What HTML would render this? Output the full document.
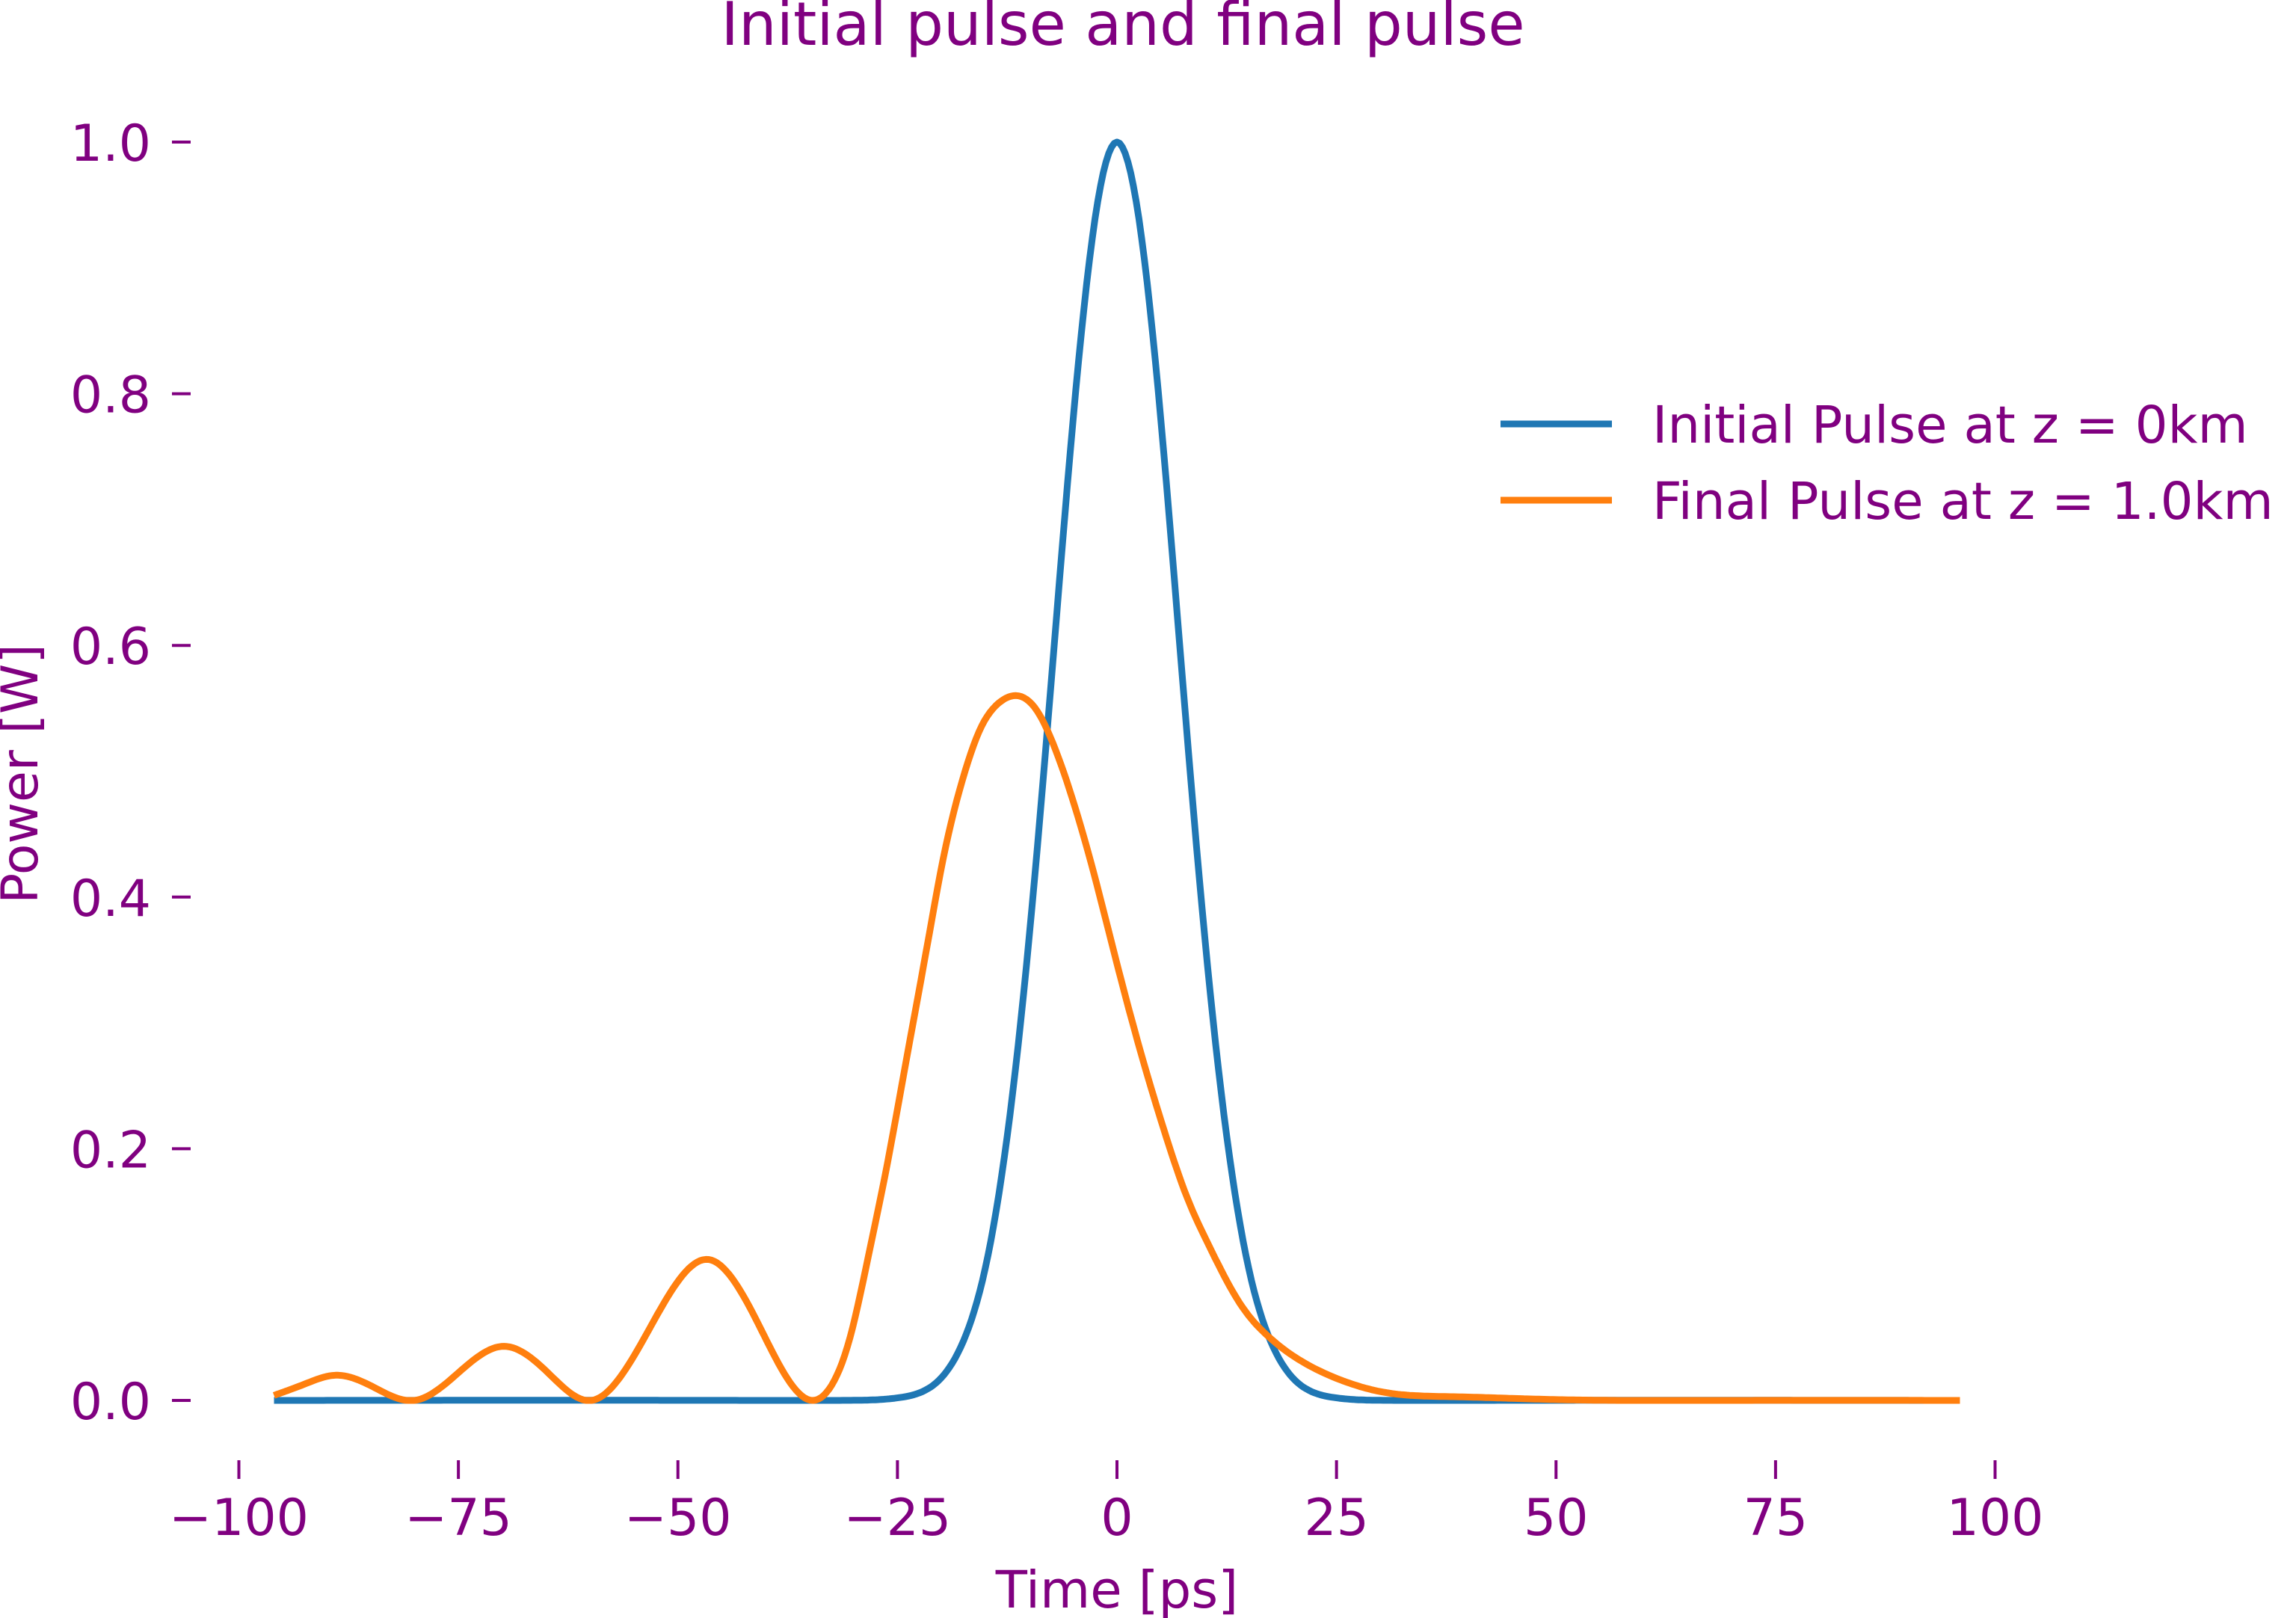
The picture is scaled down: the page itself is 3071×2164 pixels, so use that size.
<!DOCTYPE html>
<html><head><meta charset="utf-8"><style>
html,body{margin:0;padding:0;background:#fff}
svg{display:block;font-family:"DejaVu Sans","Liberation Sans",sans-serif}
</style></head><body>
<svg id="chart" width="3071" height="2164" viewBox="0 0 3071 2164">
<text x="1502" y="60" font-size="80" fill="#800080" text-anchor="middle">Initial pulse and final pulse</text>
<text transform="translate(50,1035) rotate(-90)" font-size="68" fill="#800080" text-anchor="middle">Power [W]</text>
<text x="1494" y="2150" font-size="69" fill="#800080" text-anchor="middle">Time [ps]</text>
<g id="xaxis"></g>
<g id="yaxis"></g>
<g id="series"></g>
<g>
<line x1="2007" y1="567" x2="2156" y2="567" stroke="#1f77b4" stroke-width="9"/>
<text x="2210" y="592" font-size="69" fill="#800080">Initial Pulse at z = 0km</text>
<line x1="2007" y1="669" x2="2156" y2="669" stroke="#ff7f0e" stroke-width="9"/>
<text x="2210" y="694" font-size="69" fill="#800080">Final Pulse at z = 1.0km</text>
</g>
</svg>
<script>
const xTicks = [-100, -75, -50, -25, 0, 25, 50, 75, 100];
const xTickLabels = ["\u2212100", "\u221275", "\u221250", "\u221225", "0", "25", "50", "75", "100"];
const yTicks = [0, 0.2, 0.4, 0.6, 0.8, 1.0];
const yTickLabels = ["0.0", "0.2", "0.4", "0.6", "0.8", "1.0"];
const initialT = [-96, -40, -32.5, -30, -27.5, -25, -22.5, -20, -17.5, -15, -12.5, -10, -7.5, -5, -2.5, 0, 2.5, 5, 7.5, 10, 12.5, 15, 17.5, 20, 22.5, 25, 27.5, 30, 32.5, 40, 96];
const initialP = [0, 0, 0, 0.0001, 0.0005, 0.002, 0.006, 0.018, 0.047, 0.105, 0.21, 0.368, 0.57, 0.779, 0.939, 1, 0.939, 0.779, 0.57, 0.368, 0.21, 0.105, 0.047, 0.018, 0.006, 0.002, 0.0005, 0.0001, 0, 0, 0];
const finalT = [-96, -92.5, -89, -84.5, -80, -75, -69.8, -64.8, -59.8, -53, -46.5, -40.5, -34.6, -32.5, -30.4, -28.3, -26.1, -23.9, -21.7, -19.8, -17.6, -15.4, -13.5, -11.8, -9.1, -7, -4.8, -2.6, -0.4, 1.7, 3.9, 5.9, 8, 10.2, 12.2, 14.3, 16.9, 21.3, 25.2, 30, 38, 48, 70, 96];
const finalP = [0.004, 0.013, 0.02, 0.01, 0, 0.022, 0.043, 0.022, 0, 0.06, 0.112, 0.056, 0, 0.012, 0.05, 0.115, 0.19, 0.274, 0.358, 0.43, 0.493, 0.536, 0.554, 0.56, 0.548, 0.517, 0.472, 0.418, 0.358, 0.302, 0.248, 0.203, 0.161, 0.127, 0.099, 0.074, 0.053, 0.03, 0.017, 0.007, 0.003, 0.001, 0, 0];

const NS = "http://www.w3.org/2000/svg";
const X0 = 1494, XS = 11.745, Y0 = 1873, YS = 1683;
function xs(t){ return X0 + t * XS; }
function ys(p){ return Y0 - p * YS; }
function mk(tag, attrs, parent){ const e = document.createElementNS(NS, tag); for (const k in attrs) e.setAttribute(k, attrs[k]); parent.appendChild(e); return e; }

const xg = document.getElementById('xaxis');
xTicks.forEach((v, i) => {
  const l = mk('line', {x1: xs(v), x2: xs(v), y1: 1953, y2: 1978, stroke: '#800080', 'stroke-width': 4}, xg);
  
  
  const t = mk('text', {x: xs(v), y: 2053, 'font-size': 68, fill: '#800080', 'text-anchor': 'middle'}, xg);
  t.textContent = xTickLabels[i];
  
  
});
const yg = document.getElementById('yaxis');
yTicks.forEach((v, i) => {
  const l = mk('line', {x1: 230, x2: 255, y1: ys(v), y2: ys(v), stroke: '#800080', 'stroke-width': 4}, yg);
  
  
  const t = mk('text', {x: 202, y: ys(v) + 25, 'font-size': 68, fill: '#800080', 'text-anchor': 'end'}, yg);
  t.textContent = yTickLabels[i];
  
  
});

// natural cubic spline in data space
function smoothPath(T, P){
  const n = T.length, h = [], a = new Array(n).fill(0), b = new Array(n).fill(1), c = new Array(n).fill(0), r = new Array(n).fill(0);
  for (let i = 0; i < n - 1; i++) h.push(T[i+1] - T[i]);
  for (let i = 1; i < n - 1; i++) {
    a[i] = h[i-1]; b[i] = 2 * (h[i-1] + h[i]); c[i] = h[i];
    r[i] = 6 * ((P[i+1] - P[i]) / h[i] - (P[i] - P[i-1]) / h[i-1]);
  }
  const cp = new Array(n).fill(0), rp = new Array(n).fill(0), M = new Array(n).fill(0);
  for (let i = 1; i < n - 1; i++) {
    const den = b[i] - a[i] * cp[i-1];
    cp[i] = c[i] / den; rp[i] = (r[i] - a[i] * rp[i-1]) / den;
  }
  for (let i = n - 2; i >= 1; i--) M[i] = rp[i] - cp[i] * M[i+1];
  let path = 'M' + xs(T[0]).toFixed(1) + ',' + ys(P[0]).toFixed(1);
  for (let i = 0; i < n - 1; i++) {
    const steps = Math.max(4, Math.ceil(h[i] * 3));
    for (let s = 1; s <= steps; s++) {
      const u = s / steps, t = T[i] + u * h[i];
      const A = 1 - u, B = u;
      const y = A * P[i] + B * P[i+1] + ((A*A*A - A) * M[i] + (B*B*B - B) * M[i+1]) * h[i] * h[i] / 6;
      path += ' L' + xs(t).toFixed(1) + ',' + ys(Math.max(0, y)).toFixed(1);
    }
  }
  return path;
}
const sg = document.getElementById('series');
const pb = mk('path', {d: smoothPath(initialT, initialP), fill: 'none', stroke: '#1f77b4', 'stroke-width': 9, 'stroke-linejoin': 'round'}, sg);


const po = mk('path', {d: smoothPath(finalT, finalP), fill: 'none', stroke: '#ff7f0e', 'stroke-width': 9, 'stroke-linejoin': 'round'}, sg);


</script>
</body></html>
